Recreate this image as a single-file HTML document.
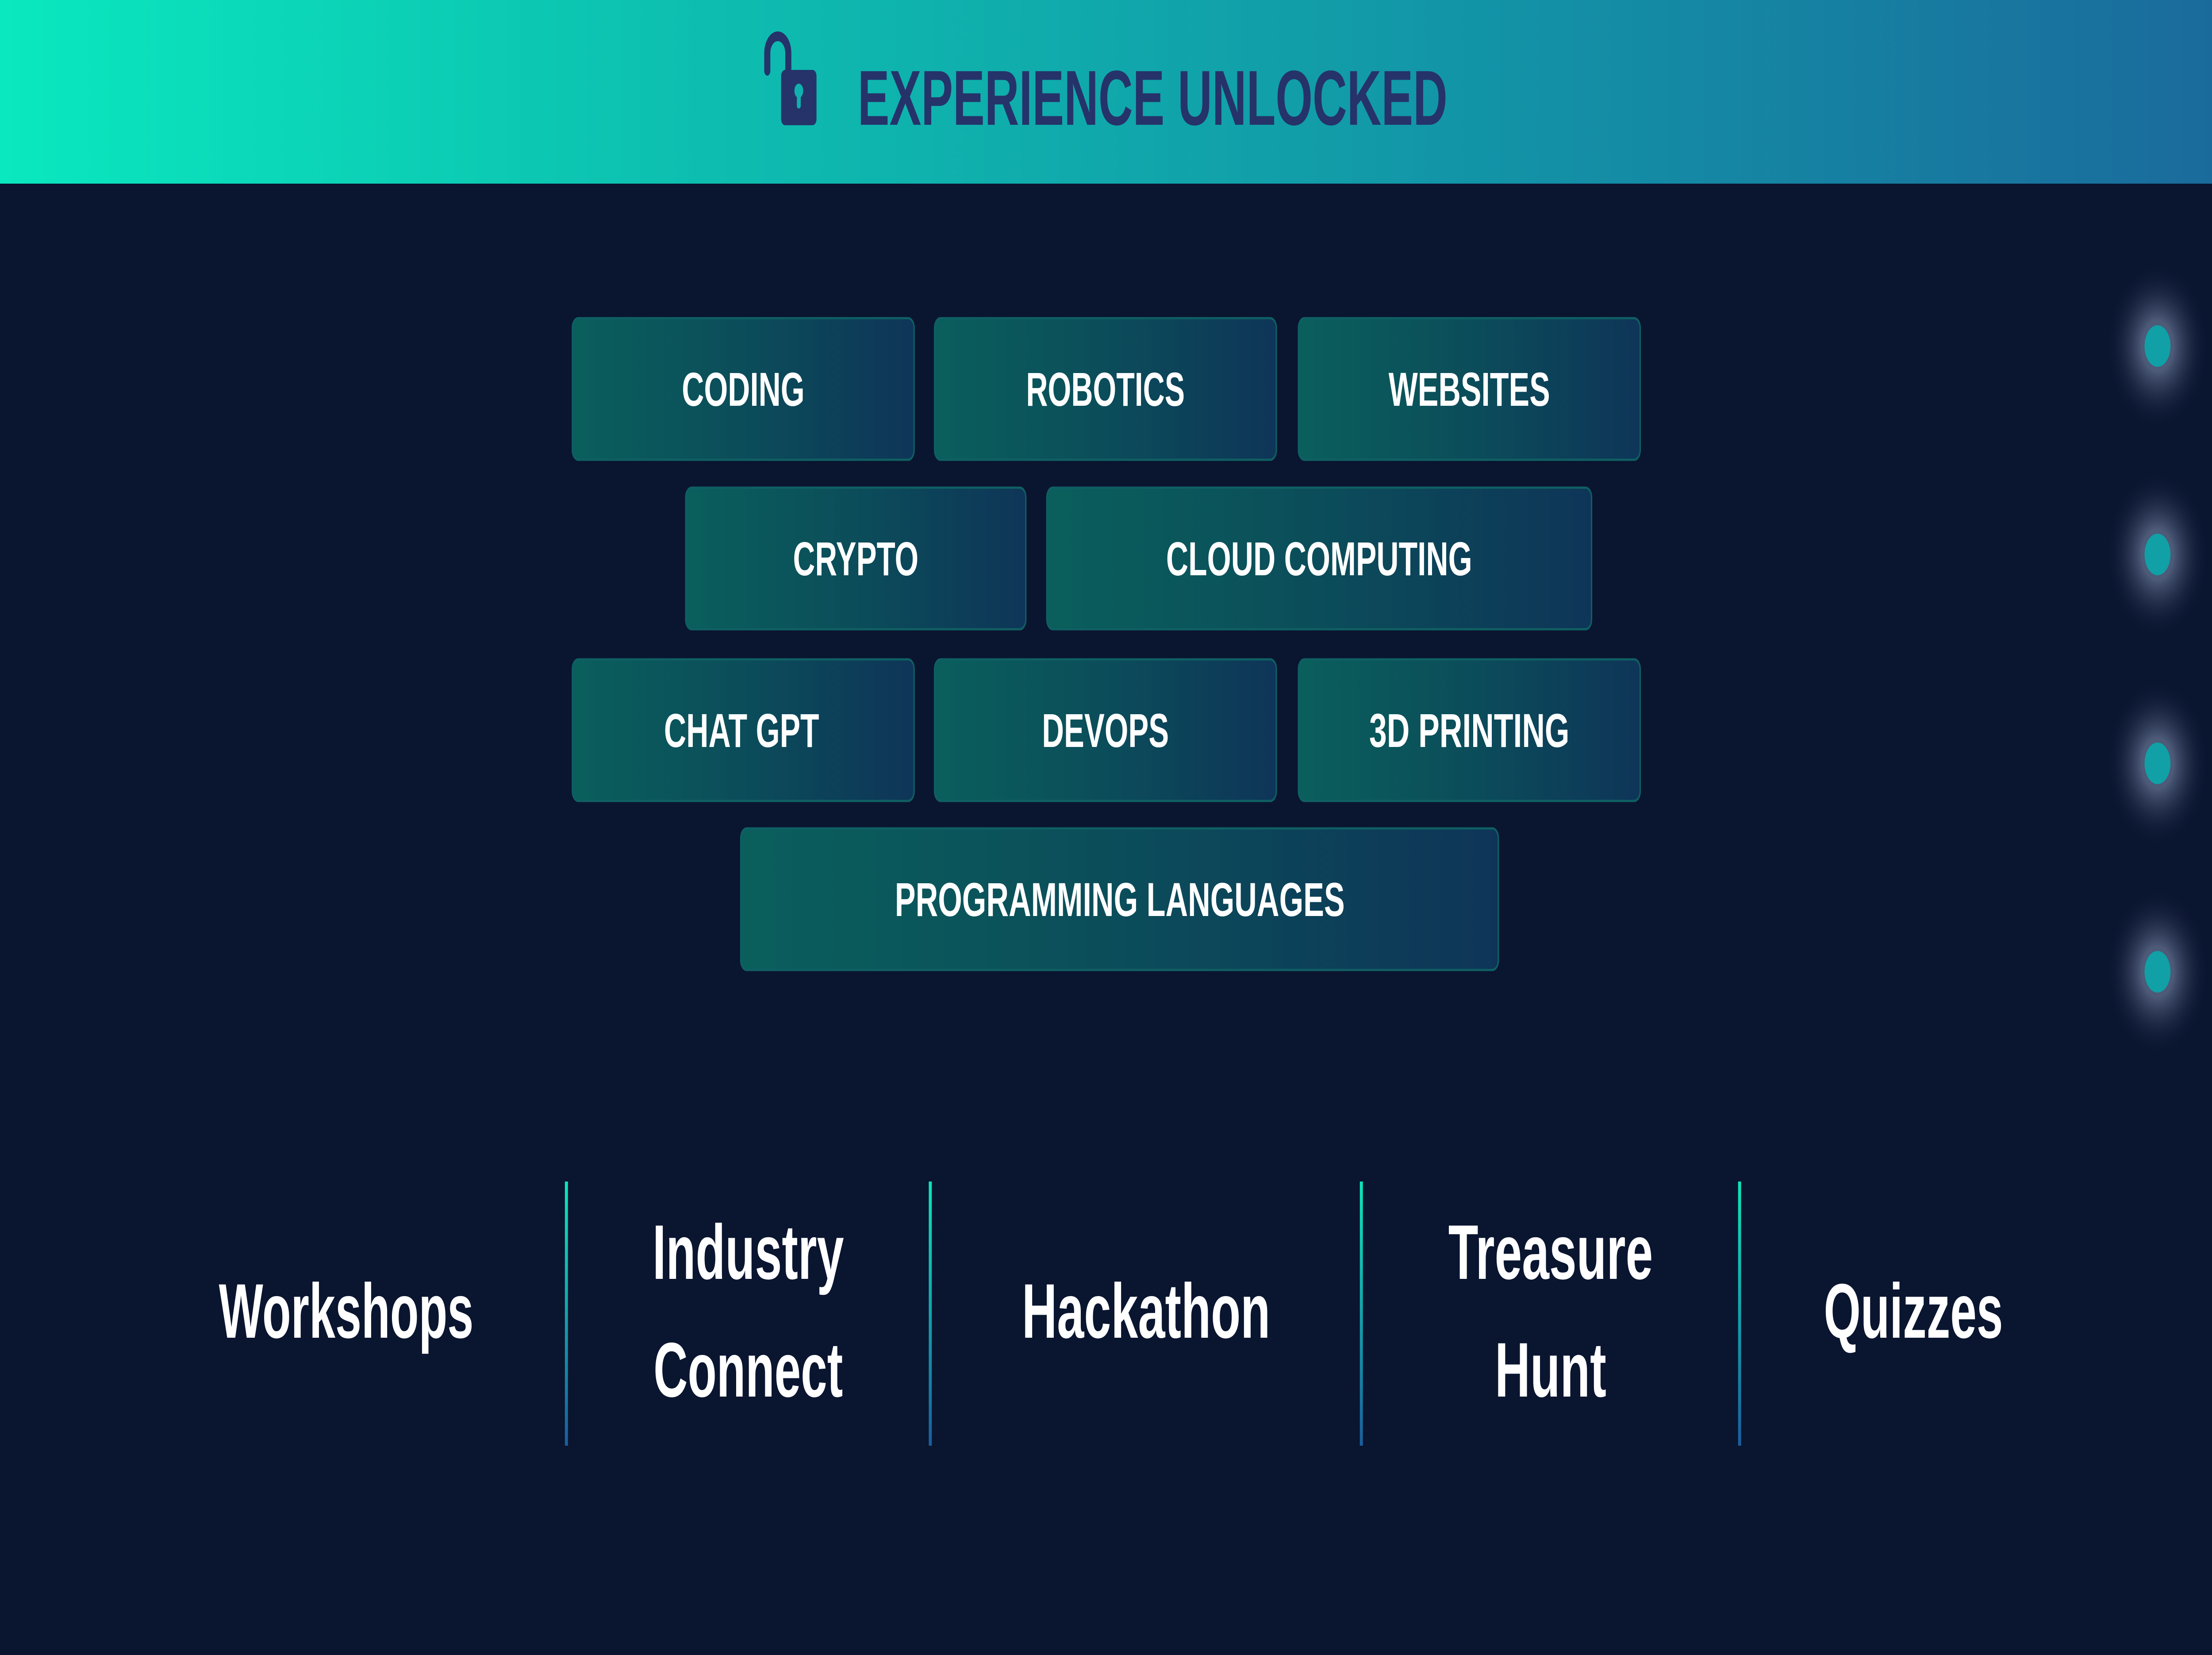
<!DOCTYPE html>
<html><head><meta charset="utf-8"><style>
html,body{margin:0;padding:0;width:100%;height:100%;overflow:hidden;background:#0a1530}
svg{display:block;position:absolute;left:0;top:0;width:100vw;height:100vh}
text{font-family:"Liberation Sans",sans-serif;font-weight:bold}
</style></head><body>
<svg viewBox="0 0 8000 3740" preserveAspectRatio="none" xmlns="http://www.w3.org/2000/svg">
<defs>
<linearGradient id="hg" x1="0" x2="1" y1="0" y2="0">
<stop offset="0" stop-color="#0ae8bf"/><stop offset="0.3" stop-color="#0dc0b0"/><stop offset="0.7" stop-color="#1390a6"/><stop offset="1" stop-color="#1a6b9c"/></linearGradient>
<linearGradient id="bg" x1="0" x2="1" y1="0" y2="0">
<stop offset="0" stop-color="#0a5f5c"/><stop offset="0.5" stop-color="#0b4d5a"/><stop offset="1" stop-color="#0e3558"/></linearGradient>
<linearGradient id="lg" x1="0" x2="0" y1="0" y2="1">
<stop offset="0" stop-color="#0ee6b8"/><stop offset="1" stop-color="#1a5e9c"/></linearGradient>
<radialGradient id="glow">
<stop offset="0.3" stop-color="#7a88a8" stop-opacity="0.6"/><stop offset="1" stop-color="#0a1530" stop-opacity="0"/></radialGradient>
</defs>
<rect width="8000" height="3740" fill="#0a1530"/>
<rect width="8000" height="415" fill="url(#hg)"/>
<g transform="translate(2755,70)">
<path d="M20 90 V50 A38 38 0 0 1 96 50 V88" fill="none" stroke="#25336a" stroke-width="22" stroke-linecap="round"/>
<rect x="70" y="88" width="128" height="125" rx="14" fill="#25336a"/>
<circle cx="134" cy="135" r="16" fill="#10b0ae"/><rect x="127" y="135" width="14" height="40" rx="6" fill="#10b0ae"/>
</g>
<text x="3102" y="282" font-size="176" fill="#25336a" textLength="2133" lengthAdjust="spacingAndGlyphs">EXPERIENCE UNLOCKED</text>

<g stroke="#0f5f63" stroke-width="5" fill="url(#bg)">
<rect x="2070" y="719" width="1236" height="320" rx="22"/>
<rect x="3380" y="719" width="1236" height="320" rx="22"/>
<rect x="4696" y="719" width="1236" height="320" rx="22"/>
<rect x="2480" y="1102" width="1230" height="320" rx="22"/>
<rect x="3786" y="1102" width="1970" height="320" rx="22"/>
<rect x="2070" y="1490" width="1236" height="320" rx="22"/>
<rect x="3380" y="1490" width="1236" height="320" rx="22"/>
<rect x="4696" y="1490" width="1236" height="320" rx="22"/>
<rect x="2679" y="1872" width="2740" height="320" rx="22"/>
</g>
<g fill="#fff" font-size="108" text-anchor="middle">
<text x="2688" y="917" textLength="444" lengthAdjust="spacingAndGlyphs">CODING</text>
<text x="3998" y="917" textLength="574" lengthAdjust="spacingAndGlyphs">ROBOTICS</text>
<text x="5314" y="917" textLength="584" lengthAdjust="spacingAndGlyphs">WEBSITES</text>
<text x="3095" y="1300" textLength="454" lengthAdjust="spacingAndGlyphs">CRYPTO</text>
<text x="4771" y="1300" textLength="1107" lengthAdjust="spacingAndGlyphs">CLOUD COMPUTING</text>
<text x="2682" y="1688" textLength="561" lengthAdjust="spacingAndGlyphs">CHAT GPT</text>
<text x="3998" y="1688" textLength="459" lengthAdjust="spacingAndGlyphs">DEVOPS</text>
<text x="5314" y="1688" textLength="724" lengthAdjust="spacingAndGlyphs">3D PRINTING</text>
<text x="4050" y="2070" textLength="1627" lengthAdjust="spacingAndGlyphs">PROGRAMMING LANGUAGES</text>
</g>

<g>
<circle cx="7803" cy="782" r="190" fill="url(#glow)"/>
<circle cx="7803" cy="1253" r="190" fill="url(#glow)"/>
<circle cx="7803" cy="1725" r="190" fill="url(#glow)"/>
<circle cx="7803" cy="2196" r="190" fill="url(#glow)"/>
<g fill="#10a0a6">
<circle cx="7803" cy="782" r="47"/><circle cx="7803" cy="1253" r="47"/><circle cx="7803" cy="1725" r="47"/><circle cx="7803" cy="2196" r="47"/>
</g></g>

<g fill="url(#lg)">
<rect x="2043" y="2670" width="11" height="597"/>
<rect x="3359" y="2670" width="11" height="597"/>
<rect x="4918" y="2670" width="11" height="597"/>
<rect x="6286" y="2670" width="11" height="597"/>
</g>
<g fill="#fff" font-size="175" text-anchor="middle">
<text x="1252" y="3023" textLength="921" lengthAdjust="spacingAndGlyphs">Workshops</text>
<text x="2706" y="2890" textLength="692" lengthAdjust="spacingAndGlyphs">Industry</text>
<text x="2706" y="3156" textLength="685" lengthAdjust="spacingAndGlyphs">Connect</text>
<text x="4145" y="3023" textLength="898" lengthAdjust="spacingAndGlyphs">Hackathon</text>
<text x="5608" y="2890" textLength="740" lengthAdjust="spacingAndGlyphs">Treasure</text>
<text x="5608" y="3156" textLength="403" lengthAdjust="spacingAndGlyphs">Hunt</text>
<text x="6920" y="3023" textLength="648" lengthAdjust="spacingAndGlyphs">Quizzes</text>
</g>
</svg>
</body></html>
